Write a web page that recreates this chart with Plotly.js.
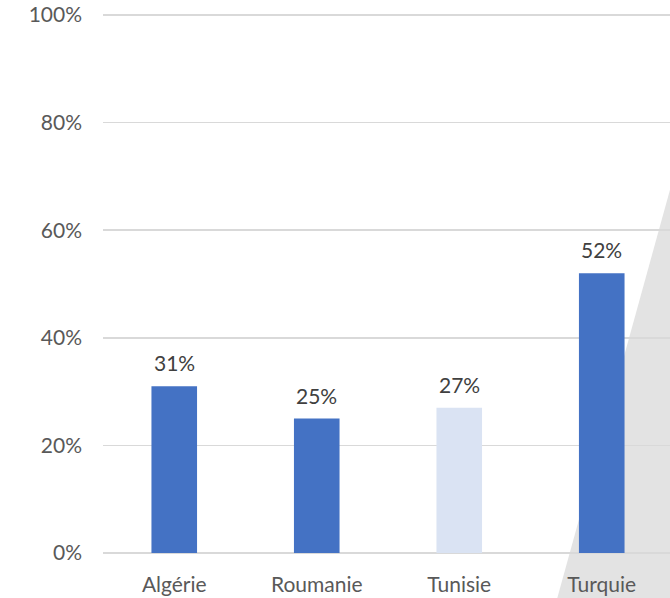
<!DOCTYPE html>
<html><head><meta charset="utf-8">
<script src="https://cdn.plot.ly/plotly-3.0.1.min.js"></script>
<style>html,body{margin:0;padding:0;overflow:hidden;background:#fff}</style>
</head><body>
<div id="chart" style="width:670px;height:598px"></div>
<script>
const categories = ["Algérie", "Roumanie", "Tunisie", "Turquie"];
const values = [0.31, 0.25, 0.27, 0.52];
const labels = ["31%", "25%", "27%", "52%"];
const barColors = ["#4472C4", "#4472C4", "#DAE3F3", "#4472C4"];
const yTicks = [0, 0.2, 0.4, 0.6, 0.8, 1.0];
const yTickLabels = ["0%", "20%", "40%", "60%", "80%", "100%"];

const font = "Lato, 'Open Sans', sans-serif";

const trace = {
  type: "bar",
  x: categories,
  y: values,
  width: 0.32,
  marker: {color: barColors},
  hoverinfo: "none"
};

const annotations = categories.map((c, i) => ({
  x: c, y: values[i], xref: "x", yref: "y",
  text: labels[i], showarrow: false,
  yanchor: "bottom", yshift: 9,
  font: {family: font, size: 21, color: "#404040"}
}));

const layout = {
  width: 670, height: 598,
  margin: {l: 103, r: 0, t: 13, b: 43},
  paper_bgcolor: "#fff", plot_bgcolor: "rgba(0,0,0,0)",
  showlegend: false,
  xaxis: {
    type: "category",
    range: [-0.5, 3.479],
    showgrid: false, zeroline: false,
    showline: false, ticks: "",
    ticklabelstandoff: 15,
    tickfont: {family: font, size: 21, color: "#595959"},
    fixedrange: true
  },
  yaxis: {
    range: [-0.0037, 1.0037],
    tickvals: yTicks, ticktext: yTickLabels,
    showgrid: true, gridcolor: "#d9d9d9", gridwidth: 1.5,
    zeroline: false, showline: false, ticks: "",
    ticklabelstandoff: 20,
    tickfont: {family: font, size: 21, color: "#595959"},
    fixedrange: true
  },
  shapes: [{
    type: "path", xref: "paper", yref: "paper", layer: "below",
    path: "M 1,0.674 L 0.8,-0.084 L 1,-0.084 Z",
    fillcolor: "#e3e3e3", line: {width: 0}
  }],
  annotations: annotations
};

Plotly.newPlot("chart", [trace], layout, {displayModeBar: false, staticPlot: true});
</script>
</body></html>
